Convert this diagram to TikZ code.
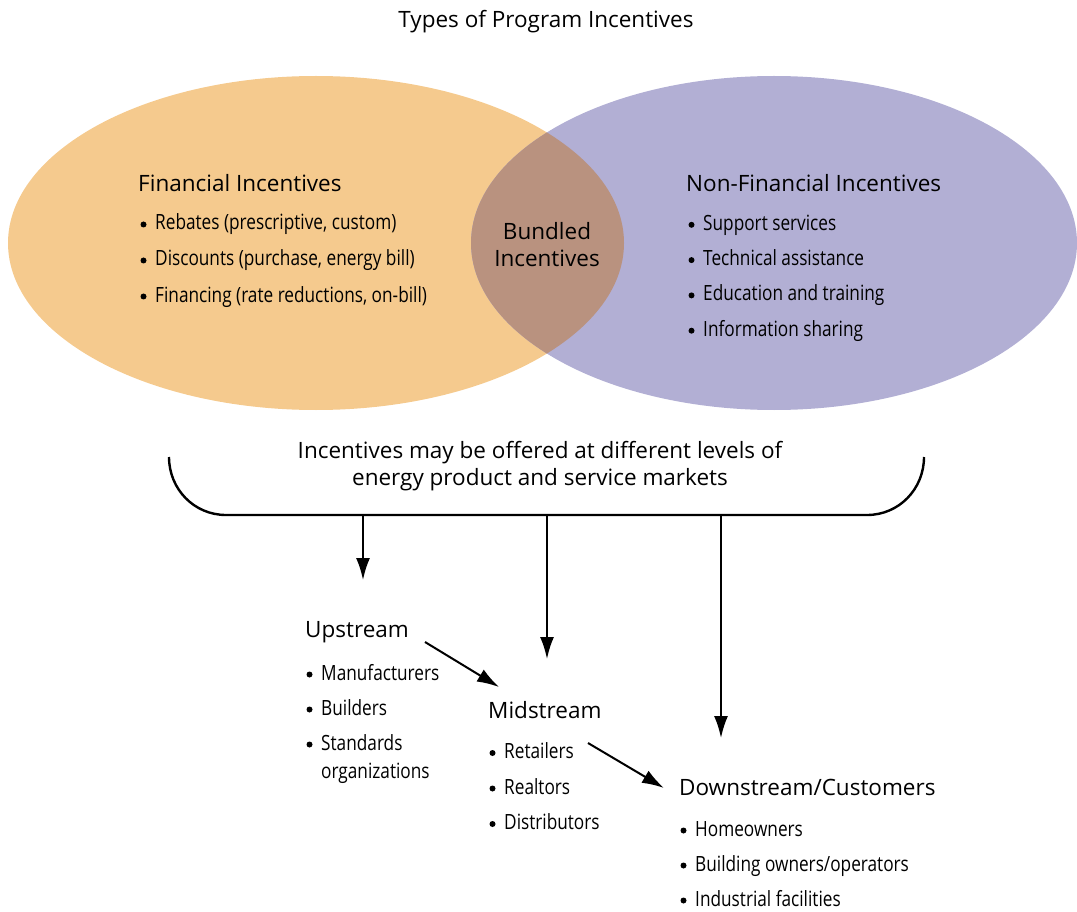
\documentclass[tikz,border=0pt]{standalone}
\usepackage{fontspec}
\setmainfont{Open Sans}
\newfontfamily\narrowfont[FakeStretch=0.82]{Open Sans}
\usetikzlibrary{arrows.meta}

\definecolor{finorange}{HTML}{F5CA8E}
\definecolor{nonfinpurple}{HTML}{B2AFD4}
\definecolor{bundlebrown}{HTML}{B9927F}

\tikzset{
  head/.style={anchor=west, inner sep=0pt, font=\fontsize{22.5}{27}\selectfont},
  item/.style={anchor=west, inner sep=0pt, text height=15pt, text depth=5pt,
    font=\narrowfont\fontsize{21}{25}\selectfont},
  arr/.style={line width=2pt, -{Latex[length=22pt,width=14pt]}},
}
\newcommand\bullpt[1]{\fill ([xshift=-11.5pt, yshift=0.5pt]#1.west) circle (3pt);}

\begin{document}
\begin{tikzpicture}[x=1pt, y=-1pt]
  \useasboundingbox (0,0) rectangle (1077,912);

  % the two circles of incentives
  \fill[finorange] (316,243) ellipse [x radius=308, y radius=167];
  \fill[nonfinpurple] (774,243) ellipse [x radius=303, y radius=167];
  \begin{scope}
    \clip (316,243) ellipse [x radius=308, y radius=167];
    \fill[bundlebrown] (774,243) ellipse [x radius=303, y radius=167];
  \end{scope}

  \node[head, anchor=center] (title) at (546,22) {Types of Program Incentives};

  \node[head] (fin) at (138,183) {Financial Incentives};
  \foreach \t [count=\i] in {{Rebates (prescriptive, custom)},
      {Discounts (purchase, energy bill)}, {Financing (rate reductions, on-bill)}} {
    \node[item] (fin\i) at (155,189+\i*36) {\t};
    \bullpt{fin\i}
  }

  \node[head, align=center, anchor=center] (bundle) at (547,245) {Bundled\\Incentives};

  \node[head] (nonfin) at (686,183) {Non-Financial Incentives};
  \foreach \t [count=\i] in {Support services, Technical assistance,
      Education and training, Information sharing} {
    \node[item] (nonfin\i) at (703,190+\i*35.3) {\t};
    \bullpt{nonfin\i}
  }

  % the bracket to the market levels
  \node[head, align=center, anchor=center] (levels) at (540,466)
    {Incentives may be offered at different levels of\\energy product and service markets};
  \draw[line width=2.4pt] (169,457) .. controls (169,489) and (194,515) .. (226,515)
    -- (867,515) .. controls (899,515) and (924,489) .. (924,457);
  \coordinate (b1) at (363,515);
  \coordinate (b2) at (547,515);
  \coordinate (b3) at (721,515);

  \node[head] (up) at (305,632) {Upstream};
  \foreach \t [count=\i] in {Manufacturers, Builders, Standards} {
    \node[item] (up\i) at (321,640+\i*35) {\t};
    \bullpt{up\i}
  }
  \node[item] (up4) at (321,773) {organizations};
  \node[head] (mid) at (488,710) {Midstream};
  \foreach \t [count=\i] in {Retailers, Realtors, Distributors} {
    \node[item] (mid\i) at (504,718+\i*35.5) {\t};
    \bullpt{mid\i}
  }
  \node[head] (down) at (679,787) {Downstream/Customers};
  \foreach \t [count=\i] in {Homeowners, Building owners/operators, Industrial facilities} {
    \node[item] (down\i) at (695,796+\i*35) {\t};
    \bullpt{down\i}
  }

  \coordinate (upin) at (363,580);
  \coordinate (midin) at (547,659);
  \coordinate (downin) at (721,738);
  \draw[arr] (b1) -- (upin);
  \draw[arr] (b2) -- (midin);
  \draw[arr] (b3) -- (downin);

  \coordinate (upout) at (425,642);
  \coordinate (midtop) at (499,687);
  \coordinate (midout) at (588,743);
  \coordinate (downtop) at (664,788);
  \draw[arr] (upout) -- (midtop);
  \draw[arr] (midout) -- (downtop);
\end{tikzpicture}
\end{document}
